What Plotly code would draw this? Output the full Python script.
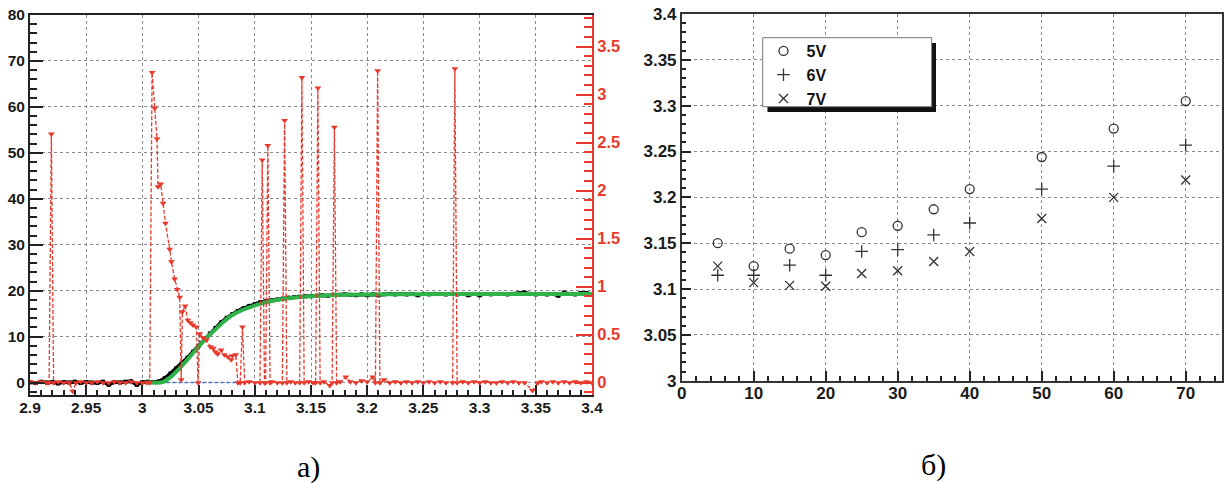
import plotly.graph_objects as go

# ---------------- Panel a) data ----------------
BLACK_X = [
    2.900, 2.905, 2.910, 2.915, 2.920, 2.925, 2.930, 2.935, 2.940, 2.945,
    2.950, 2.955, 2.960, 2.965, 2.970, 2.975, 2.980, 2.985, 2.990, 2.995,
    3.000, 3.005, 3.010, 3.015, 3.020, 3.025, 3.030, 3.035, 3.040, 3.045,
    3.050, 3.055, 3.060, 3.065, 3.070, 3.075, 3.080, 3.085, 3.090, 3.095,
    3.100, 3.105, 3.110, 3.115, 3.120, 3.125, 3.130, 3.135, 3.140, 3.145,
    3.150, 3.155, 3.160, 3.165, 3.170, 3.175, 3.180, 3.185, 3.190, 3.195,
    3.200, 3.205, 3.210, 3.215, 3.220, 3.225, 3.230, 3.235, 3.240, 3.245,
    3.250, 3.255, 3.260, 3.265, 3.270, 3.275, 3.280, 3.285, 3.290, 3.295,
    3.300, 3.305, 3.310, 3.315, 3.320, 3.325, 3.330, 3.335, 3.340, 3.345,
    3.350, 3.355, 3.360, 3.365, 3.370, 3.375, 3.380, 3.385, 3.390, 3.395,
    3.400,
]
BLACK_Y = [
    0.1, -0.1, 0.2, 0.0, 0.1, -0.2, 0.1, 0.0, 0.2, -0.1,
    0.1, 0.0, -0.1, 0.2, -0.5, 0.1, 0.0, 0.2, 0.3, -0.5,
    0.1, 0.2, 0.1, 0.3, 1.0, 2.0, 3.1, 4.3, 5.4, 6.7,
    8.0, 9.4, 10.7, 11.9, 13.1, 14.1, 14.9, 15.6, 16.2, 16.7,
    17.1, 17.5, 17.7, 17.9, 18.1, 18.3, 18.5, 18.6, 18.7, 18.8,
    18.8, 18.9, 19.0, 18.9, 19.1, 19.1, 19.2, 19.1, 19.0, 19.2,
    19.0, 19.2, 19.0, 19.2, 19.3, 19.2, 19.3, 19.2, 19.3, 19.0,
    19.3, 19.2, 19.3, 19.3, 19.2, 19.3, 19.2, 19.3, 19.0, 19.3,
    19.0, 19.3, 19.2, 19.3, 19.3, 19.2, 19.3, 19.4, 19.6, 19.3,
    19.2, 19.3, 19.2, 19.3, 18.9, 19.6, 19.3, 19.2, 19.5, 19.5,
    19.3,
]

GREEN_X = [3.003, 3.010, 3.018, 3.025, 3.033, 3.040, 3.050, 3.058, 3.066, 3.073,
           3.080, 3.090, 3.098, 3.107, 3.116, 3.128, 3.140, 3.157, 3.180, 3.220,
           3.300, 3.400]
GREEN_Y = [0.0, 0.0, 0.1, 1.2, 3.1, 5.0, 7.8, 10.0, 11.8, 13.4,
           14.7, 15.9, 16.6, 17.3, 17.8, 18.3, 18.6, 18.9, 19.1, 19.25,
           19.3, 19.3]

BLUE_X = [3.000, 3.090]
BLUE_Y = [0.0, 0.0]

RED_X = [
    2.900, 2.905, 2.910, 2.915, 2.917, 2.919, 2.921, 2.925, 2.930, 2.935,
    2.938, 2.941, 2.945, 2.950, 2.955, 2.960, 2.965, 2.970, 2.975, 2.980,
    2.985, 2.990, 2.995, 3.000, 3.004, 3.0065, 3.0086, 3.011, 3.013, 3.0139,
    3.0163, 3.0184, 3.0205, 3.0243, 3.0258, 3.0287, 3.031, 3.0332, 3.0345, 3.0356,
    3.038, 3.0405, 3.0427, 3.045, 3.048, 3.0495, 3.051, 3.054, 3.057, 3.0605,
    3.063, 3.065, 3.067, 3.070, 3.073, 3.076, 3.079, 3.080, 3.083, 3.085,
    3.087, 3.089, 3.091, 3.095, 3.100, 3.1046, 3.1066, 3.1086, 3.1096, 3.1116,
    3.1136, 3.115, 3.120, 3.1245, 3.1265, 3.1285, 3.132, 3.136, 3.1399, 3.1419,
    3.1439, 3.148, 3.152, 3.1541, 3.1561, 3.1581, 3.1615, 3.1667, 3.1688, 3.1708,
    3.1728, 3.176, 3.181, 3.185, 3.190, 3.195, 3.200, 3.205, 3.2073, 3.2093,
    3.2113, 3.215, 3.220, 3.225, 3.230, 3.235, 3.240, 3.245, 3.250, 3.255,
    3.260, 3.265, 3.270, 3.276, 3.278, 3.280, 3.285, 3.290, 3.295, 3.300,
    3.305, 3.310, 3.315, 3.320, 3.325, 3.330, 3.335, 3.340, 3.347, 3.352,
    3.355, 3.360, 3.365, 3.370, 3.375, 3.380, 3.385, 3.390, 3.395, 3.400,
]
RED_Y = [
    0.01, 0.0, 0.01, 0.0, 0.0, 2.59, 0.0, 0.01, 0.0, 0.0,
    -0.09, 0.0, 0.01, 0.0, 0.0, 0.01, 0.0, 0.0, 0.01, 0.0,
    0.0, 0.01, 0.0, 0.0, 0.0, 0.0, 3.23, 2.86, 2.54, 2.04,
    2.07, 1.87, 1.66, 1.39, 1.26, 1.08, 0.97, 0.89, 0.03, 0.74,
    0.80, 0.65, 0.625, 0.60, 0.58, 0.0, 0.51, 0.47, 0.445, 0.375,
    0.36, 0.32, 0.30, 0.34, 0.29, 0.27, 0.24, 0.28, 0.29, 0.0,
    0.0, 0.58, 0.0, 0.01, 0.0, 0.0, 2.32, 0.0, 0.0, 2.47,
    0.0, 0.01, 0.0, 0.0, 2.73, 0.0, 0.01, 0.0, 0.0, 3.18,
    0.0, 0.01, 0.0, 0.0, 3.07, 0.0, 0.01, -0.03, 0.0, 2.66,
    0.0, 0.01, 0.06, 0.01, 0.0, 0.02, 0.01, 0.06, 0.0, 3.25,
    0.0, 0.03, 0.0, 0.01, 0.0, 0.01, 0.0, 0.01, 0.0, 0.01,
    0.0, 0.01, 0.0, 0.0, 3.27, 0.0, 0.01, 0.0, 0.01, 0.0,
    0.01, 0.0, 0.0, 0.01, 0.0, 0.01, 0.0, 0.0, -0.08, 0.0,
    0.01, 0.0, 0.01, 0.0, 0.01, 0.0, 0.01, 0.0, 0.01, 0.0,
]

# ---------------- Panel б) data ----------------
T_VALUES = [5, 10, 15, 20, 25, 30, 35, 40, 50, 60, 70]
V5 = [3.150, 3.125, 3.144, 3.137, 3.162, 3.169, 3.187, 3.209, 3.244, 3.275, 3.305]
V6 = [3.115, 3.115, 3.126, 3.115, 3.141, 3.143, 3.159, 3.172, 3.209, 3.234, 3.257]
V7 = [3.125, 3.107, 3.104, 3.103, 3.117, 3.120, 3.130, 3.141, 3.177, 3.200, 3.219]
SERIES_NAMES = ["5V", "6V", "7V"]

W, H = 1227, 483
RED = "#e8392c"
GRID = "#8a8a8a"
FAMILY = "Liberation Sans, Arial, sans-serif"
FONT_A = dict(family=FAMILY, size=15.5, color="#1a1a1a", weight="bold")
FONT_B = dict(family=FAMILY, size=17, color="#1a1a1a", weight="bold")


def px_x(p):
    return p / W


def px_y(p):
    return 1 - p / H


fig = go.Figure()

# panel a
fig.add_trace(go.Scatter(x=BLUE_X, y=BLUE_Y, mode="lines", xaxis="x", yaxis="y",
                         line=dict(color="#3f6fd6", width=1.5, dash="dot"), showlegend=False))
fig.add_trace(go.Scatter(x=BLACK_X, y=BLACK_Y, mode="lines+markers", xaxis="x", yaxis="y",
                         line=dict(color="black", width=3.5),
                         marker=dict(symbol="square", size=4, color="black"), showlegend=False))
fig.add_trace(go.Scatter(x=GREEN_X, y=GREEN_Y, mode="lines", xaxis="x", yaxis="y",
                         line=dict(color="#2db34a", width=4, shape="spline"), showlegend=False))
fig.add_trace(go.Scatter(x=RED_X, y=RED_Y, mode="lines+markers", xaxis="x", yaxis="y2",
                         line=dict(color=RED, width=1.3, dash="4px,2px"),
                         marker=dict(symbol="triangle-down", size=6, color=RED), showlegend=False))

# panel b
symbols = ["circle-open", "cross-thin-open", "x-thin-open"]
for name, vals, sym in zip(SERIES_NAMES, [V5, V6, V7], symbols):
    fig.add_trace(go.Scatter(x=T_VALUES, y=vals, mode="markers", name=name, xaxis="x3", yaxis="y3",
                             marker=dict(symbol=sym, size=9, color="#333333",
                                         line=dict(color="#333333", width=1.3))))

common = dict(showgrid=True, gridcolor=GRID, griddash="dot", gridwidth=1, zeroline=False, automargin=False)

fig.update_layout(
    template="none",
    width=W, height=H,
    margin=dict(l=0, r=0, t=0, b=0, pad=0, autoexpand=False),
    paper_bgcolor="white", plot_bgcolor="white",
    xaxis=dict(domain=[px_x(30), px_x(592)], anchor="y", range=[2.9, 3.4], tick0=2.9, dtick=0.05,
               ticks="inside", ticklen=10, tickwidth=2, tickcolor="#222", showline=True, linewidth=2,
               linecolor="#222", mirror=True, tickfont=FONT_A, ticklabelstandoff=-3,
               minor=dict(dtick=0.01, ticks="inside", ticklen=5, tickwidth=1.5, tickcolor="#222", showgrid=False),
               **common),
    yaxis=dict(domain=[px_y(395), px_y(15)], anchor="x", range=[-2.7, 80], tick0=0, dtick=10,
               ticks="inside", ticklen=13, tickwidth=2, tickcolor="#222", showline=True, linewidth=2,
               linecolor="#222", tickfont=FONT_A,
               minor=dict(dtick=2, ticks="inside", ticklen=7, tickwidth=1.5, tickcolor="#222", showgrid=False),
               **common),
    yaxis2=dict(overlaying="y", side="right", anchor="x", range=[-0.128, 3.83], tick0=0, dtick=0.5,
                ticks="inside", ticklen=16, tickwidth=2, tickcolor=RED, showline=True, linewidth=2,
                linecolor=RED, showgrid=False, zeroline=False, automargin=False,
                tickfont=dict(family=FAMILY, size=16.5, color=RED, weight="bold"),
                minor=dict(dtick=0.1, ticks="inside", ticklen=8, tickwidth=1.5, tickcolor=RED, showgrid=False)),
    xaxis3=dict(domain=[px_x(681.7), px_x(1221.7)], anchor="y3", range=[0, 75], tick0=0, dtick=10,
                ticks="inside", ticklen=10, tickwidth=2, tickcolor="#222", showline=True, linewidth=1.5,
                linecolor="#333", mirror=True, tickfont=FONT_B, ticklabelstandoff=-4,
                minor=dict(dtick=2, ticks="inside", ticklen=5, tickwidth=1.5, tickcolor="#222", showgrid=False),
                **common),
    yaxis3=dict(domain=[px_y(380.7), px_y(14)], anchor="x3", range=[3.0, 3.4], tick0=3.0, dtick=0.05,
                ticks="inside", ticklen=10, tickwidth=2, tickcolor="#222", showline=True, linewidth=1.5,
                linecolor="#333", mirror=True, tickfont=FONT_B,
                minor=dict(dtick=0.01, ticks="inside", ticklen=5, tickwidth=1.5, tickcolor="#222", showgrid=False),
                **common),
    legend=dict(x=px_x(760.5), y=px_y(34), xanchor="left", yanchor="top", itemwidth=36,
                bgcolor="rgba(0,0,0,0)", borderwidth=0, tracegroupgap=0,
                font=dict(family=FAMILY, size=16, color="#111", weight="bold")),
    shapes=[
        dict(type="rect", xref="paper", yref="paper", x0=px_x(767.5), x1=px_x(936), y0=px_y(112), y1=px_y(43),
             fillcolor="#111", line=dict(width=0), layer="above"),
        dict(type="rect", xref="paper", yref="paper", x0=px_x(762.7), x1=px_x(931.7), y0=px_y(106.7), y1=px_y(37.7),
             fillcolor="white", line=dict(color="#777", width=1), layer="above"),
    ],
    annotations=[
        dict(text="а)", xref="paper", yref="paper", x=px_x(308), y=px_y(467), showarrow=False,
             yanchor="middle", xanchor="center",
             font=dict(family="Liberation Serif, Times New Roman, serif", size=30, color="black")),
        dict(text="б)", xref="paper", yref="paper", x=px_x(933), y=px_y(465), showarrow=False,
             yanchor="middle", xanchor="center",
             font=dict(family="Liberation Serif, Times New Roman, serif", size=30, color="black")),
    ],
)

fig.write_html("out.html", config={"displayModeBar": False},
               post_script="document.body.style.margin='0';document.body.style.overflow='hidden';")
